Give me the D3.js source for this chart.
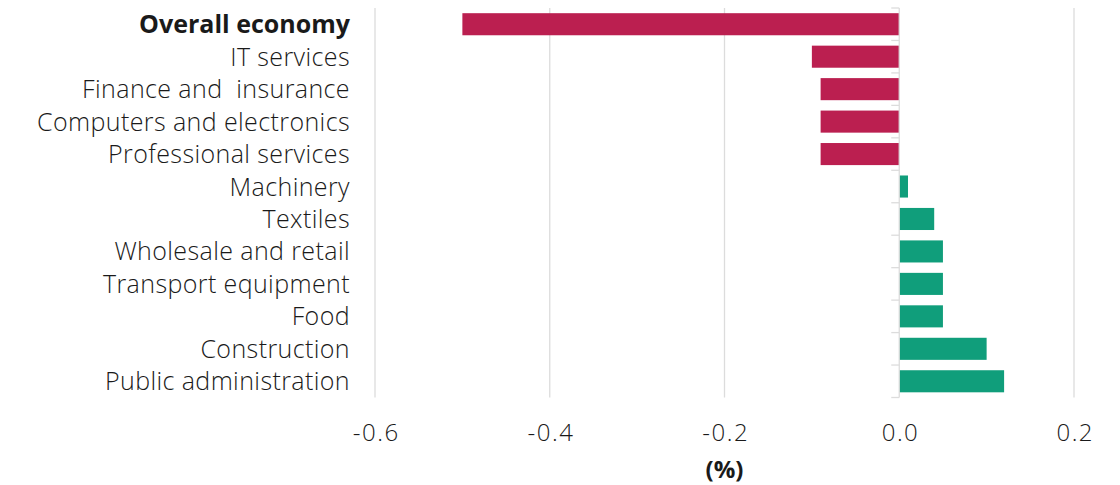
<!DOCTYPE html>
<html><head><meta charset="utf-8">
<script src="https://cdn.jsdelivr.net/npm/d3@7"></script>
<style>
html,body{margin:0;padding:0;background:#fff;}
svg{display:block;font-family:"Open Sans",Roboto,sans-serif;}
svg text{white-space:pre;}
</style></head>
<body>
<svg id="chart" width="1120" height="485"></svg>
<script>
const categories = ["Overall economy","IT services","Finance and  insurance","Computers and electronics","Professional services","Machinery","Textiles","Wholesale and retail","Transport equipment","Food","Construction","Public administration"];
const values = [-0.5,-0.1,-0.09,-0.09,-0.09,0.01,0.04,0.05,0.05,0.05,0.1,0.12];
const xTicks = [-0.6,-0.4,-0.2,0.0,0.2];
const xLabel = "(%)";

const FONT = "'Open Sans',Roboto,sans-serif";
const svg = d3.select("#chart");
const x = d3.scaleLinear().domain([-0.6,0.2]).range([375,1074]);
const y = d3.scaleBand().domain(categories).range([8,397.5]).paddingInner(0.32).paddingOuter(0.16);

svg.append("g").selectAll("line").data(xTicks.filter(d=>d!==0)).join("line")
  .attr("x1",d=>x(d)).attr("x2",d=>x(d)).attr("y1",8).attr("y2",397.5)
  .attr("stroke","#dcdcdc").attr("stroke-width",1.3);

svg.append("g").selectAll("rect").data(values).join("rect")
  .attr("x",d=>x(Math.min(0,d))).attr("width",d=>Math.abs(x(d)-x(0)))
  .attr("y",(d,i)=>y(categories[i])).attr("height",y.bandwidth())
  .attr("fill",d=>d<0?"#bb1f50":"#109e7b");

const bounds = categories.map(c=>y(c)-y.step()*y.paddingInner()/2);
bounds.push(397.5);
const ax = svg.append("g");
ax.append("line").attr("x1",x(0)).attr("x2",x(0)).attr("y1",8).attr("y2",397.5)
  .attr("stroke","#dcdcdc").attr("stroke-width",1.3);
ax.selectAll("line.t").data(bounds).join("line").attr("class","t")
  .attr("x1",x(0)-8).attr("x2",x(0)).attr("y1",d=>d).attr("y2",d=>d)
  .attr("stroke","#dcdcdc").attr("stroke-width",1.3);

svg.append("g").selectAll("text").data(categories).join("text")
  .attr("x",350).attr("y",c=>y(c)+y.bandwidth()/2)
  .attr("dy","0.36em").attr("text-anchor","end")
  .attr("font-size",25).attr("font-weight",(c,i)=>i===0?700:300)
  .attr("letter-spacing",(c,i)=>i===0?"0px":"0.4px")
  .attr("fill","#1a1a1a").text(c=>c);

const xAxis = d3.axisBottom(x).tickValues(xTicks).tickFormat(d3.format(".1f")).tickSize(0).tickPadding(0);
const gx = svg.append("g").attr("transform","translate(0,424)").call(xAxis);
gx.select(".domain").remove();
gx.selectAll("text").attr("font-size",24).attr("font-weight",300).attr("fill","#1a1a1a")
  .attr("letter-spacing","1.5px").attr("dx","0.75px")
  .attr("font-family",FONT).text(d=>d3.format(".1f")(d).replace("−","-"));

svg.append("text").attr("x",x(-0.2)).attr("y",478).attr("text-anchor","middle")
  .attr("font-size",24).attr("font-weight",700).attr("fill","#1a1a1a").text(xLabel);
</script>
</body></html>
